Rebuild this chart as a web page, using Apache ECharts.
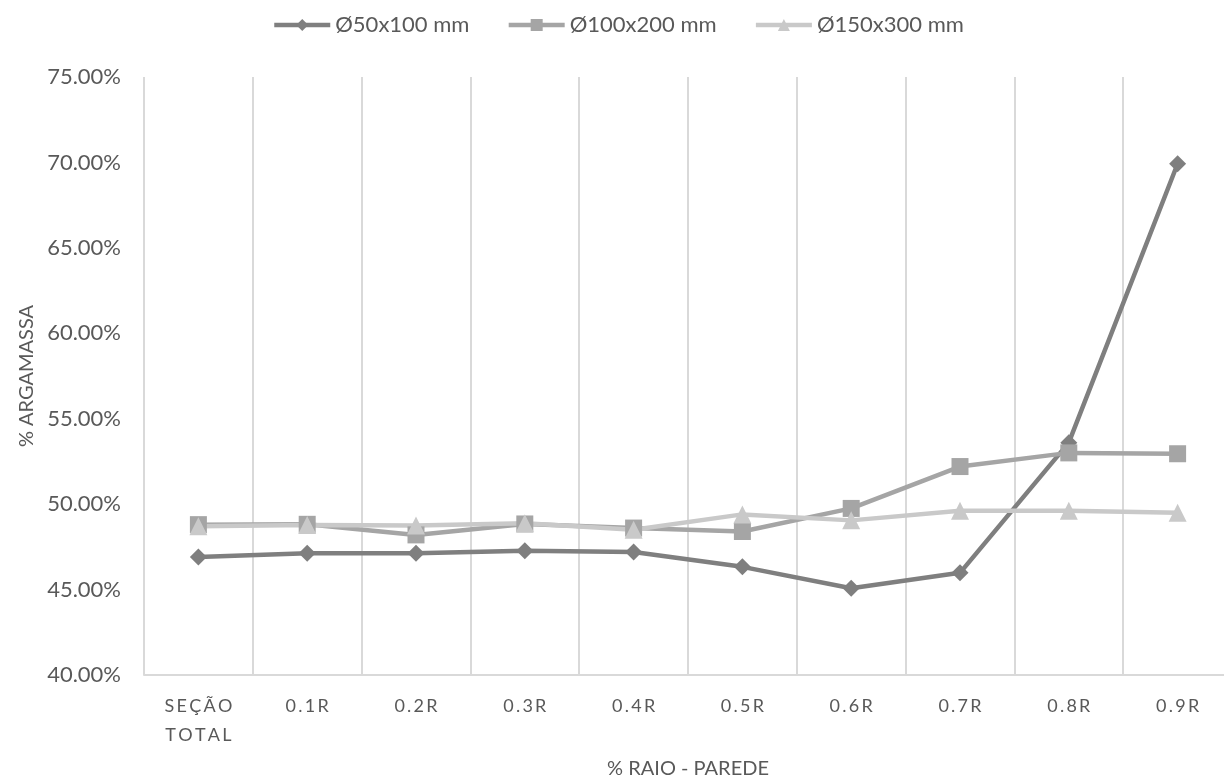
<!DOCTYPE html>
<html>
<head>
<meta charset="utf-8">
<script src="https://cdn.jsdelivr.net/npm/echarts@6/dist/echarts.min.js"></script>
<style>html,body{margin:0;padding:0;background:#fff;}#c{width:1224px;height:778px;}</style>
</head>
<body>
<div id="c"></div>
<script>
const categories = ['SEÇÃO TOTAL', '0.1R', '0.2R', '0.3R', '0.4R', '0.5R', '0.6R', '0.7R', '0.8R', '0.9R'];
const seriesNames = ['Ø50x100 mm', 'Ø100x200 mm', 'Ø150x300 mm'];
const d50x100 = [46.9, 47.12, 47.12, 47.27, 47.2, 46.33, 45.08, 45.98, 53.6, 69.92];
const d100x200 = [48.8, 48.82, 48.2, 48.84, 48.6, 48.4, 49.75, 52.2, 53.0, 52.95];
const d150x300 = [48.7, 48.78, 48.75, 48.88, 48.5, 49.4, 49.05, 49.62, 49.62, 49.5];
const yMin = 40, yMax = 75, yStep = 5;
const xTitle = '% RAIO - PAREDE';
const yTitle = '% ARGAMASSA';

const colors = ['#7f7f7f', '#a5a5a5', '#c9c9c9'];
const symbols = ['diamond', 'rect', 'triangle'];
const sizes = [17, 17, 18];
const dataSets = [d50x100, d100x200, d150x300];
const FONT = 'Lato';
const TXT = '#595959';

const chart = echarts.init(document.getElementById('c'), null, {renderer: 'canvas'});
chart.setOption({
  animation: false,
  backgroundColor: '#ffffff',
  color: colors,
  textStyle: {fontFamily: FONT},
  legend: {
    top: 9, left: 267,
    itemWidth: 56, itemHeight: 15, itemGap: 37,
    lineStyle: {width: 4.5},
    textStyle: {fontFamily: FONT, fontSize: 22, color: TXT},
    data: seriesNames
  },
  grid: {left: 144, top: 77, width: 1088, height: 598, containLabel: false, outerBoundsMode: 'none'},
  xAxis: {
    type: 'category',
    data: categories,
    boundaryGap: true,
    axisLine: {show: true, lineStyle: {color: '#d9d9d9', width: 2}},
    axisTick: {show: false},
    splitLine: {show: true, lineStyle: {color: '#d9d9d9', width: 2}},
    axisLabel: {
      interval: 0, margin: 17,
      fontFamily: FONT, fontSize: 18, color: TXT, lineHeight: 29,
      formatter: v => v.split(' ').map(w => w.split('').join('\u2009')).join('\n')
    },
    name: xTitle,
    nameLocation: 'middle',
    nameGap: 84,
    nameTextStyle: {fontFamily: FONT, fontSize: 20, color: TXT}
  },
  yAxis: {
    type: 'value',
    min: yMin, max: yMax, interval: yStep,
    axisLine: {show: false},
    axisTick: {show: false},
    splitLine: {show: false},
    axisLabel: {
      margin: 23, fontFamily: FONT, fontSize: 22, color: TXT,
      formatter: v => v.toFixed(2) + '%'
    },
    name: yTitle,
    nameLocation: 'middle',
    nameRotate: 90,
    nameGap: 106,
    nameTextStyle: {fontFamily: FONT, fontSize: 20, color: TXT}
  },
  series: seriesNames.map((n, i) => ({
    name: n,
    type: 'line',
    data: dataSets[i],
    symbol: symbols[i],
    symbolSize: sizes[i],
    showAllSymbol: true,
    lineStyle: {color: colors[i], width: 4.5},
    itemStyle: {color: colors[i]},
    emphasis: {disabled: true}
  }))
});
</script>
</body>
</html>
